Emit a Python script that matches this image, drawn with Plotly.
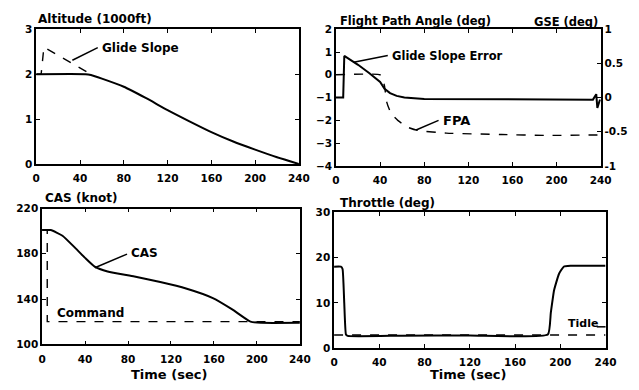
import plotly.graph_objects as go

# ---------------- data ----------------
alt_t = [0, 45, 50, 60, 80, 100, 120, 140, 160, 180, 200, 220, 240]
alt_v = [2.0, 2.0, 1.98, 1.9, 1.72, 1.47, 1.2, 0.95, 0.71, 0.5, 0.32, 0.15, 0.0]
gs_t = [0, 4.5, 7, 50]
gs_v = [2.0, 2.0, 2.6, 2.0]

fpa_t = [0, 40, 42, 44, 46, 50, 56, 65, 74, 100, 150, 190, 240]
fpa_v = [0, 0, -0.15, -0.5, -1.2, -1.7, -2.0, -2.3, -2.44, -2.56, -2.62, -2.66, -2.64]
gse_t = [0, 6.5, 7.5, 20, 30, 40, 44, 49, 55, 62, 80, 120, 200, 233, 236, 237, 239, 240]
gse_v = [0, 0, 0.61, 0.48, 0.36, 0.23, 0.13, 0.065, 0.025, 0.0, -0.02, -0.025, -0.03, -0.03, 0.05, -0.15, -0.05, -0.03]

cas_t = [0, 8, 19, 31, 40, 49, 61, 86, 110, 134, 159, 177, 194, 204, 240]
cas_v = [201, 201, 196, 185, 176.4, 168.7, 164.4, 159.9, 155, 149.3, 140.8, 130.8, 120, 119, 119]
cmd_t = [0, 4.8, 4.8, 240]
cmd_v = [201, 201, 120, 120]

thr_t = [0, 6, 7.5, 9, 10.5, 12, 60, 120, 189, 191.6, 194.5, 198.8, 203, 209, 240]
thr_v = [18, 18, 17.5, 10, 3.0, 2.7, 2.75, 2.8, 3.0, 7.8, 12.8, 16.4, 18.0, 18.2, 18.2]
tidle_t = [0, 240]
tidle_v = [2.9, 2.9]

x_ticks = [0, 40, 80, 120, 160, 200, 240]
alt_ticks = [0, 1, 2, 3]
fpa_ticks = [-4, -3, -2, -1, 0, 1, 2]
gse_ticks = [-1, -0.5, 0, 0.5, 1]
gse_labels = ["-1", "-0.5", "0", "0.5", "1"]
cas_ticks = [100, 140, 180, 220]
thr_ticks = [0, 10, 20, 30]

# ---------------- figure ----------------
W, H = 639, 390
FONT = "DejaVu Sans"
tickfont = dict(family=FONT, size=10.5, color="black", weight="bold")


def px(x):
    return x / W


def py(y):
    return 1 - y / H


fig = go.Figure()
solid = dict(color="black", width=2)
dash = dict(color="black", width=1.4, dash="dash")

fig.add_trace(go.Scatter(x=gs_t, y=gs_v, mode="lines", line=dash, xaxis="x", yaxis="y"))
fig.add_trace(go.Scatter(x=alt_t, y=alt_v, mode="lines", line=dict(color="black", width=2, shape="spline", smoothing=0.6), xaxis="x", yaxis="y"))

fig.add_trace(go.Scatter(x=fpa_t, y=fpa_v, mode="lines", line=dict(color="black", width=1.4, dash="dash", shape="spline", smoothing=0.5), xaxis="x2", yaxis="y2"))
fig.add_trace(go.Scatter(x=gse_t, y=gse_v, mode="lines", line=solid, xaxis="x2", yaxis="y5"))

fig.add_trace(go.Scatter(x=cmd_t, y=cmd_v, mode="lines", line=dash, xaxis="x3", yaxis="y3"))
fig.add_trace(go.Scatter(x=cas_t, y=cas_v, mode="lines", line=dict(color="black", width=2, shape="spline", smoothing=0.5), xaxis="x3", yaxis="y3"))

fig.add_trace(go.Scatter(x=tidle_t, y=tidle_v, mode="lines", line=dash, xaxis="x4", yaxis="y4"))
fig.add_trace(go.Scatter(x=thr_t, y=thr_v, mode="lines", line=dict(color="black", width=2, shape="spline", smoothing=0.4), xaxis="x4", yaxis="y4"))

common = dict(showline=True, linecolor="black", linewidth=1.5, ticks="inside", ticklen=4,
              tickcolor="black", tickwidth=1.2, showgrid=False, zeroline=False,
              tickfont=tickfont, fixedrange=True)


def xax(d0, d1, anchor):
    return dict(common, domain=[px(d0), px(d1)], anchor=anchor, range=[0, 240],
                tickvals=x_ticks, mirror="ticks", ticklabelstandoff=4)


def yax(d0, d1, anchor, rng, tv, mirror="ticks"):
    return dict(common, domain=[py(d1), py(d0)], anchor=anchor, range=rng,
                tickvals=tv, mirror=mirror)


fig.update_layout(
    width=W, height=H, autosize=False,
    margin=dict(l=0, r=0, t=0, b=0),
    paper_bgcolor="white", plot_bgcolor="white",
    showlegend=False,
    xaxis=xax(33, 302, "y"),
    yaxis=yax(24, 163, "x", [0, 3], alt_ticks),
    xaxis2=xax(340, 611, "y2"),
    yaxis2=yax(24, 165, "x2", [-4, 2], fpa_ticks, mirror=True),
    yaxis5=dict(common, overlaying="y2", side="right", anchor="x2", range=[-1, 1],
                tickvals=gse_ticks, ticktext=gse_labels),
    xaxis3=xax(39, 303, "y3"),
    yaxis3=yax(209, 349, "x3", [100, 220], cas_ticks),
    xaxis4=xax(338, 616, "y4"),
    yaxis4=yax(213, 353, "x4", [0, 30], thr_ticks),
)

ann = []


def text(t, x, y, size=12, xanchor="left"):
    ann.append(dict(text=t, x=px(x), y=py(y), xref="paper", yref="paper",
                    xanchor=xanchor, yanchor="middle", showarrow=False,
                    font=dict(family=FONT, size=size, color="black", weight="bold")))


text("Altitude (1000ft)", 33, 13)
text("Flight Path Angle (deg)", 342, 15, 11.5)
text("GSE (deg)", 610, 17, 11.5, xanchor="right")
text("CAS (knot)", 40, 198)
text("Throttle (deg)", 342, 203)
text("Time (sec)", 169, 380, 13, xanchor="center")
text("Time (sec)", 475, 380, 13, xanchor="center")
text("Glide Slope", 98, 43, 12)
text("Glide Slope Error", 395, 52, 11.5)
text("FPA", 447, 118, 13)
text("CAS", 128, 255, 12)
text("Command", 52, 317, 12)
text("Tidle", 575, 328, 11)

shapes = []


def seg(x0, y0, x1, y1):
    shapes.append(dict(type="line", xref="paper", yref="paper",
                       x0=px(x0), y0=py(y0), x1=px(x1), y1=py(y1),
                       line=dict(color="black", width=1.5)))


seg(70, 56, 96, 43)
seg(358, 58, 393, 51)
seg(422, 128, 445, 118)
seg(93, 270, 126, 256)
seg(607, 331, 616, 331)

fig.update_layout(annotations=ann, shapes=shapes)
fig.write_html("out.html")
